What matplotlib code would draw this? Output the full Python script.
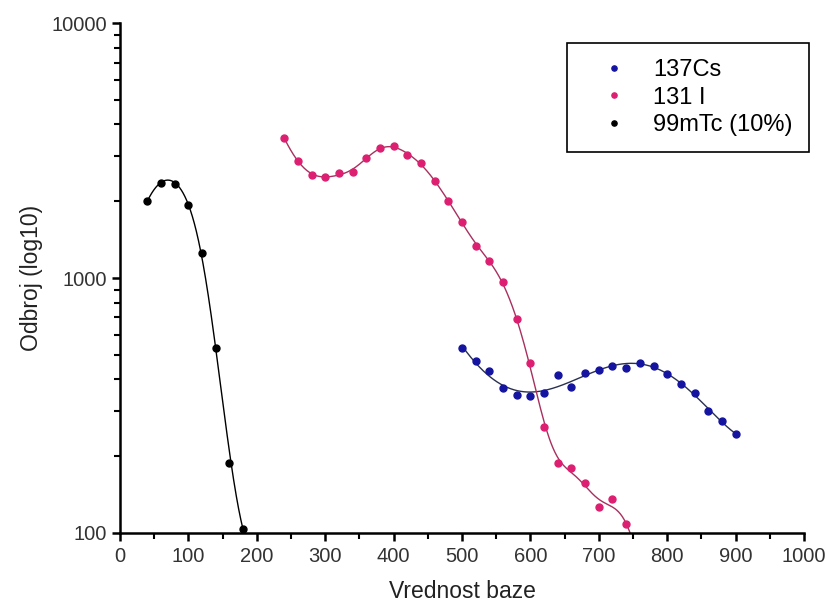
import numpy as np
import matplotlib.pyplot as plt

plt.rcParams['font.family'] = ['Liberation Sans', 'DejaVu Sans']

# 137Cs
cs_x = [500, 520, 540, 560, 580, 600, 620, 640, 660, 680, 700, 720, 740,
        760, 780, 800, 820, 840, 860, 880, 900]
cs_y = [531, 473, 433, 371, 349, 345, 355, 417, 375, 425, 436, 452, 445,
        463, 453, 420, 384, 355, 301, 276, 244]

# 131 I
i_x = [240, 260, 280, 300, 320, 340, 360, 380, 400, 420, 440, 460, 480,
       500, 520, 540, 560, 580, 600, 620, 640, 660, 680, 700, 720, 740]
i_y = [3540, 2884, 2535, 2497, 2574, 2604, 2964, 3244, 3293, 3037, 2817,
       2401, 2004, 1654, 1335, 1166, 962, 689, 465, 261, 188, 180, 157,
       127, 136, 108]

# 99mTc (10%)
tc_x = [40, 60, 80, 100, 120, 140, 160, 180]
tc_y = [2004, 2358, 2340, 1933, 1254, 531, 188, 104]

cs_col = '#1414a0'
i_col = '#dd1f72'
tc_col = 'black'


def poly_curve(x, y, deg, x_end):
    # polynomial fit of log10(y)
    x = np.asarray(x, float)
    y = np.log10(np.asarray(y, float))
    x0, x1 = x.min(), x.max()
    c = np.polyfit((x - x0) / (x1 - x0), y, deg)
    xs = np.linspace(x0, x_end, 400)
    return xs, 10 ** np.polyval(c, (xs - x0) / (x1 - x0))


def local_curve(x, y, width, x_end):
    # local quadratic regression of log10(y) with gaussian weights
    x = np.asarray(x, float)
    y = np.log10(np.asarray(y, float))
    xs = np.linspace(x.min(), x_end, 400)
    out = []
    for xv in xs:
        w = np.exp(-0.5 * ((x - xv) / width) ** 2)
        c = np.polyfit(x - xv, y, 2, w=np.sqrt(w))
        out.append(c[-1])
    return xs, 10 ** np.array(out)


fig, ax = plt.subplots(figsize=(8.27, 6.06), dpi=100)
fig.subplots_adjust(left=0.1451, right=0.9722, bottom=0.1205, top=0.962)

xs, ys = poly_curve(cs_x, cs_y, 5, 900)
ax.plot(xs, ys, color='#2a3050', lw=1)
xs, ys = local_curve(i_x, i_y, 23, 770)
ax.plot(xs, ys, color='#a8305e', lw=1)
xs, ys = local_curve(tc_x, tc_y, 22, 185)
ax.plot(xs, ys, color='black', lw=1)

ax.plot(cs_x, cs_y, 'o', color=cs_col, ms=5, label='137Cs')
ax.plot(i_x, i_y, 'o', color=i_col, ms=5, label='131 I')
ax.plot(tc_x, tc_y, 'o', color=tc_col, ms=5, label='99mTc (10%)')

ax.set_yscale('log')
ax.set_xlim(0, 1000)
ax.set_ylim(100, 10000)
ax.set_xticks(np.arange(0, 1001, 100))
ax.set_xticks(np.arange(50, 1000, 100), minor=True)
ax.set_yticks([100, 1000, 10000])
ax.set_yticklabels(['100', '1000', '10000'])

for s in ['top', 'right']:
    ax.spines[s].set_visible(False)
for s in ['left', 'bottom']:
    ax.spines[s].set_linewidth(1.8)
ax.tick_params(which='major', direction='out', length=6, width=1.8,
               labelsize=14.5, colors='black', labelcolor='#333333')
ax.tick_params(which='minor', direction='out', length=4, width=1.5)
ax.tick_params(axis='x', pad=4)

ax.set_xlabel('Vrednost baze', fontsize=16.5, color='#222222', labelpad=10)
ax.set_ylabel('Odbroj (log10)', fontsize=16.5, color='#222222', labelpad=6)

leg = ax.legend(loc='upper right', bbox_to_anchor=(1.007, 0.961),
                borderaxespad=0, fontsize=17, markerscale=0.75,
                handlelength=2.6, handletextpad=0.35, borderpad=0.7,
                labelspacing=0.22, fancybox=False, framealpha=1,
                edgecolor='black')
leg.get_frame().set_linewidth(1.2)

fig.savefig('out.png', dpi=100)
